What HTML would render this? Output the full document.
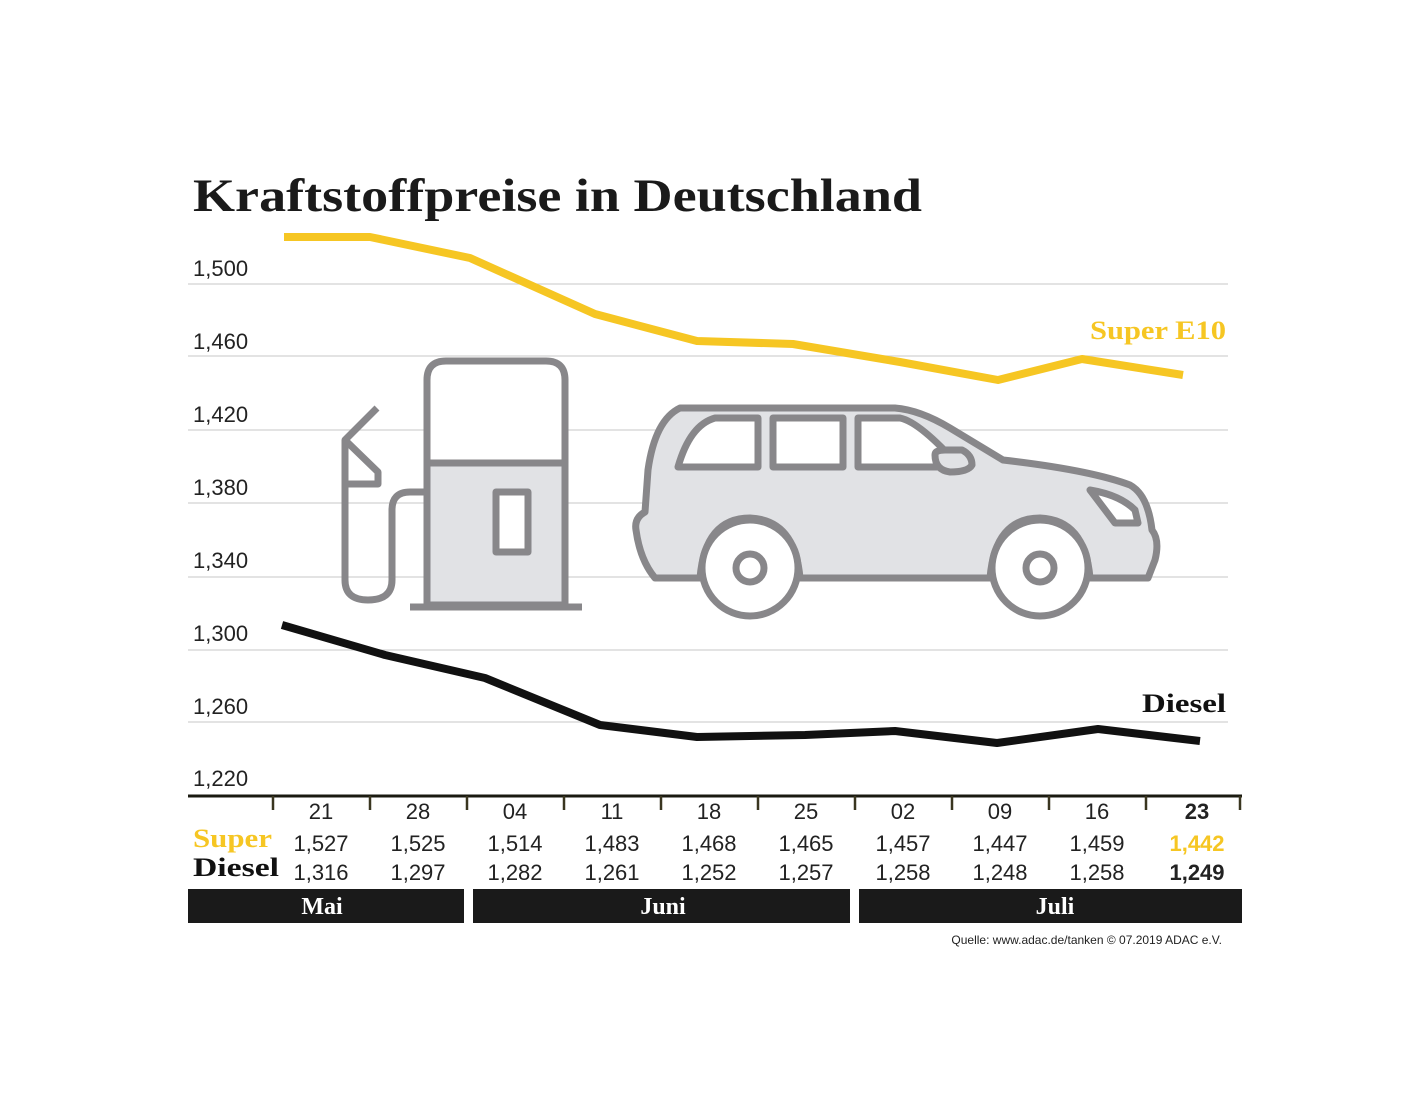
<!DOCTYPE html>
<html><head><meta charset="utf-8"><style>
html,body{margin:0;padding:0;background:#fff;}
svg{display:block}
</style></head><body>
<svg width="1414" height="1118" viewBox="0 0 1414 1118" xmlns="http://www.w3.org/2000/svg">
<rect width="1414" height="1118" fill="#fff"/>
<text x="193" y="211" font-family="Liberation Serif, serif" font-weight="bold" font-size="47" fill="#1a1a1a" textLength="729" lengthAdjust="spacingAndGlyphs">Kraftstoffpreise in Deutschland</text>
<g stroke="#d2d2d2" stroke-width="1.2">
<line x1="188" y1="284" x2="1228" y2="284"/>
<line x1="188" y1="356" x2="1228" y2="356"/>
<line x1="188" y1="430" x2="1228" y2="430"/>
<line x1="188" y1="503" x2="1228" y2="503"/>
<line x1="188" y1="577" x2="1228" y2="577"/>
<line x1="188" y1="650" x2="1228" y2="650"/>
<line x1="188" y1="722" x2="1228" y2="722"/>
</g>
<g font-family="Liberation Sans, sans-serif" font-size="22" fill="#222">
<text x="193" y="276">1,500</text>
<text x="193" y="349">1,460</text>
<text x="193" y="422">1,420</text>
<text x="193" y="495">1,380</text>
<text x="193" y="568">1,340</text>
<text x="193" y="641">1,300</text>
<text x="193" y="714">1,260</text>
<text x="193" y="786">1,220</text>
</g>
<!-- pump -->
<g stroke="#88878a" stroke-width="7" fill="none" stroke-linejoin="round">
<path d="M427,605 V380 Q427,361 446,361 H546 Q565,361 565,380 V605 Z" fill="#fff"/>
<path d="M427,463 H565 V605 H427 Z" fill="#e1e2e5"/>
<rect x="496" y="492" width="32" height="60" fill="#fff"/>
<line x1="410" y1="607" x2="582" y2="607"/>
<path d="M427,492 H410 Q392,492 392,510 V580 Q392,600 368,600 Q345,600 345,580 V440 L377,408"/>
<path d="M345,440 L378,472 V484 H345"/>
</g>
<!-- car -->
<g stroke="#88878a" stroke-width="7" stroke-linejoin="round">
<path d="M655,578 Q640,560 636,530 Q634,518 645,512 L648,470 Q655,420 680,408 H895 Q920,410 950,428 L1003,460 Q1090,470 1130,485 Q1148,495 1152,530 Q1160,540 1155,560 L1148,578 H1090 Q1085,520 1040,518 Q995,518 990,578 H800 Q795,520 750,518 Q705,518 700,578 Z" fill="#e1e2e5"/>
<path d="M678,467 Q690,425 715,418 H758 V467 Z" fill="#fff"/>
<rect x="773" y="418" width="70" height="49" fill="#fff"/>
<path d="M858,418 H900 Q920,422 960,467 H858 Z" fill="#fff"/>
<path d="M935,455 Q935,450 945,450 H962 Q972,455 972,465 Q968,472 950,472 Q935,470 935,455 Z" fill="#e1e2e5"/>
<path d="M1090,490 Q1120,495 1135,510 L1138,523 H1115 Z" fill="#fff"/>
<circle cx="750" cy="568" r="48" fill="#fff"/>
<circle cx="750" cy="568" r="14" fill="#fff"/>
<circle cx="1040" cy="568" r="48" fill="#fff"/>
<circle cx="1040" cy="568" r="14" fill="#fff"/>
</g>
<polyline fill="none" stroke="#f6c623" stroke-width="8" stroke-linejoin="round" points="284,237 370,237 470,258 595,314 697,341 793,344 900,362 998,380 1082,359 1183,375"/>
<polyline fill="none" stroke="#111" stroke-width="8" stroke-linejoin="round" points="282,625 385,655 485,678 600,725 697,737 805,735 895,731 997,743 1098,729 1200,741"/>
<text x="1090" y="339" font-family="Liberation Serif, serif" font-weight="bold" font-size="26" fill="#f6c623" textLength="136" lengthAdjust="spacingAndGlyphs">Super E10</text>
<text x="1142" y="712" font-family="Liberation Serif, serif" font-weight="bold" font-size="26" fill="#111" textLength="84" lengthAdjust="spacingAndGlyphs">Diesel</text>
<line x1="188" y1="796" x2="1242" y2="796" stroke="#1a1a10" stroke-width="3"/>
<g stroke="#3a3620" stroke-width="2.5">
<line x1="273" y1="796" x2="273" y2="810"/><line x1="370" y1="796" x2="370" y2="810"/><line x1="467" y1="796" x2="467" y2="810"/><line x1="564" y1="796" x2="564" y2="810"/><line x1="661" y1="796" x2="661" y2="810"/><line x1="758" y1="796" x2="758" y2="810"/><line x1="855" y1="796" x2="855" y2="810"/><line x1="952" y1="796" x2="952" y2="810"/><line x1="1049" y1="796" x2="1049" y2="810"/><line x1="1146" y1="796" x2="1146" y2="810"/><line x1="1240" y1="796" x2="1240" y2="810"/>
</g>
<g font-family="Liberation Sans, sans-serif" font-size="22" fill="#222" text-anchor="middle">
<text x="321" y="819">21</text><text x="418" y="819">28</text><text x="515" y="819">04</text><text x="612" y="819">11</text><text x="709" y="819">18</text><text x="806" y="819">25</text><text x="903" y="819">02</text><text x="1000" y="819">09</text><text x="1097" y="819">16</text><text x="1197" y="819" font-weight="bold">23</text>
<text x="321" y="851">1,527</text><text x="418" y="851">1,525</text><text x="515" y="851">1,514</text><text x="612" y="851">1,483</text><text x="709" y="851">1,468</text><text x="806" y="851">1,465</text><text x="903" y="851">1,457</text><text x="1000" y="851">1,447</text><text x="1097" y="851">1,459</text><text x="1197" y="851" font-weight="bold" fill="#f6c623">1,442</text>
<text x="321" y="880">1,316</text><text x="418" y="880">1,297</text><text x="515" y="880">1,282</text><text x="612" y="880">1,261</text><text x="709" y="880">1,252</text><text x="806" y="880">1,257</text><text x="903" y="880">1,258</text><text x="1000" y="880">1,248</text><text x="1097" y="880">1,258</text><text x="1197" y="880" font-weight="bold">1,249</text>
</g>
<text x="193" y="847" font-family="Liberation Serif, serif" font-weight="bold" font-size="26" fill="#f6c623" textLength="79" lengthAdjust="spacingAndGlyphs">Super</text>
<text x="193" y="876" font-family="Liberation Serif, serif" font-weight="bold" font-size="26" fill="#111" textLength="86" lengthAdjust="spacingAndGlyphs">Diesel</text>
<rect x="188" y="889" width="276" height="34" fill="#1a1a1a"/>
<rect x="473" y="889" width="377" height="34" fill="#1a1a1a"/>
<rect x="859" y="889" width="383" height="34" fill="#1a1a1a"/>
<g font-family="Liberation Serif, serif" font-weight="bold" font-size="24" fill="#fff" text-anchor="middle">
<text x="322" y="914">Mai</text><text x="663" y="914">Juni</text><text x="1055" y="914">Juli</text>
</g>
<text x="1222" y="944" text-anchor="end" font-family="Liberation Sans, sans-serif" font-size="12" fill="#222">Quelle: www.adac.de/tanken   © 07.2019  ADAC e.V.</text>
</svg>
</body></html>
